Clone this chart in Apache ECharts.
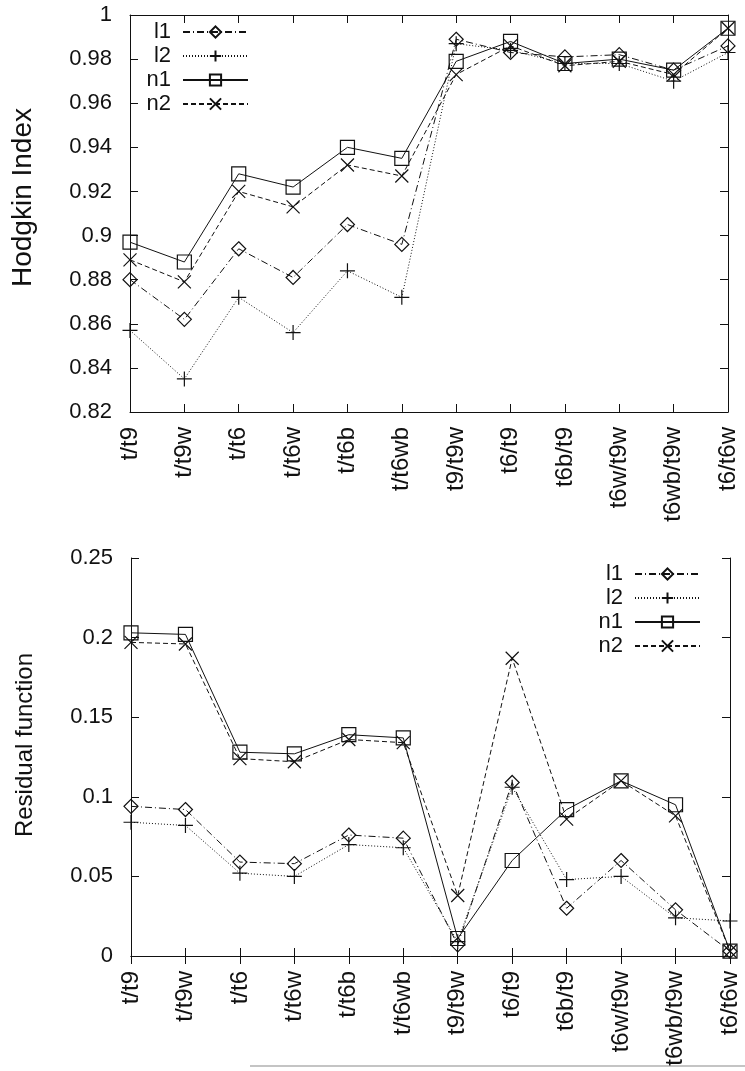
<!DOCTYPE html>
<html>
<head>
<meta charset="utf-8">
<script src="https://cdn.jsdelivr.net/npm/echarts@6/dist/echarts.min.js"></script>
<style>
html,body{margin:0;padding:0;background:#fff;}
#chart{width:745px;height:1071px;}
</style>
</head>
<body>
<div id="chart"></div>
<script>
// Categories (x axis tick labels)
const categories = ['t/t9','t/t9w','t/t6','t/t6w','t/t6b','t/t6wb','t9/t9w','t6/t9','t6b/t9','t6w/t9w','t6wb/t9w','t6/t6w'];

// Top panel: Hodgkin Index
const hodgkinL1 = [0.880, 0.862, 0.894, 0.881, 0.905, 0.896, 0.989, 0.983, 0.981, 0.982, 0.975, 0.986];
const hodgkinL2 = [0.857, 0.835, 0.872, 0.856, 0.884, 0.872, 0.987, 0.984, 0.978, 0.978, 0.970, 0.983];
const hodgkinN1 = [0.897, 0.888, 0.928, 0.922, 0.940, 0.935, 0.979, 0.988, 0.978, 0.980, 0.975, 0.994];
const hodgkinN2 = [0.889, 0.879, 0.920, 0.913, 0.932, 0.927, 0.973, 0.986, 0.977, 0.979, 0.973, 0.994];

// Bottom panel: Residual function
const residualL1 = [0.094, 0.092, 0.059, 0.058, 0.076, 0.074, 0.007, 0.109, 0.030, 0.060, 0.029, 0.003];
const residualL2 = [0.084, 0.082, 0.052, 0.050, 0.070, 0.068, 0.009, 0.106, 0.048, 0.050, 0.024, 0.022];
const residualN1 = [0.203, 0.202, 0.128, 0.127, 0.139, 0.137, 0.011, 0.060, 0.092, 0.110, 0.095, 0.003];
const residualN2 = [0.197, 0.196, 0.124, 0.122, 0.136, 0.134, 0.038, 0.187, 0.086, 0.110, 0.088, 0.003];

const seriesNames = ['l1', 'l2', 'n1', 'n2'];

const FONT = 'Liberation Sans, Arial, Helvetica, sans-serif';
const INK = '#111';

const styles = {
  l1: { symbol: 'diamond', symbolSize: 14, dash: [7, 3, 1, 3] },
  l2: { symbol: 'path://M0,5H10M5,0V10', symbolSize: 15, dash: [1, 2] },
  n1: { symbol: 'rect', symbolSize: 14, dash: 'solid' },
  n2: { symbol: 'path://M0,0L10,10M10,0L0,10', symbolSize: 13, dash: [5, 3] }
};

function makeSeries(name, data, gi) {
  const s = styles[name];
  return {
    name: name,
    type: 'line',
    xAxisIndex: gi * 2,
    yAxisIndex: gi * 2,
    data: data,
    symbol: s.symbol,
    symbolSize: s.symbolSize,
    showAllSymbol: true,
    animation: false,
    z: 3,
    lineStyle: { color: INK, width: 1, type: s.dash },
    itemStyle: { color: 'rgba(0,0,0,0)', borderColor: INK, borderWidth: 1.2 },
    emphasis: { disabled: true }
  };
}

const grids = [
  { left: 130, top: 15, width: 598, height: 397 },
  { left: 131, top: 558, width: 599, height: 398 }
];

const xAxes = [];
const yAxes = [];
const yCfg = [
  { min: 0.82, max: 1, interval: 0.02, name: 'Hodgkin Index', nameSize: 28, nameGap: 93, namePad: [0, 0, 0, 32] },
  { min: 0, max: 0.25, interval: 0.05, name: 'Residual function', nameSize: 24, nameGap: 94, namePad: [0, 0, 0, 24] }
];
for (let g = 0; g < 2; g++) {
  xAxes.push({
    type: 'category', gridIndex: g, data: categories, boundaryGap: false, position: 'bottom',
    axisLine: { show: true, lineStyle: { color: INK, width: 1 } },
    axisTick: { show: true, inside: true, length: 8, lineStyle: { color: INK } },
    axisLabel: { rotate: 90, margin: 15, fontSize: 24, fontFamily: FONT, color: INK, interval: 0 },
    splitLine: { show: false }
  });
  xAxes.push({
    type: 'category', gridIndex: g, data: categories, boundaryGap: false, position: 'top',
    axisLine: { show: true, lineStyle: { color: INK, width: 1 } },
    axisTick: { show: true, inside: true, length: 8, lineStyle: { color: INK }, interval: 0 },
    axisLabel: { show: false },
    splitLine: { show: false }
  });
  const c = yCfg[g];
  yAxes.push({
    type: 'value', gridIndex: g, min: c.min, max: c.max, interval: c.interval, position: 'left',
    name: c.name, nameLocation: 'middle', nameRotate: 90, nameGap: c.nameGap,
    nameTextStyle: { fontSize: c.nameSize, fontFamily: FONT, color: INK, padding: c.namePad },
    axisLine: { show: true, lineStyle: { color: INK, width: 1 } },
    axisTick: { show: true, inside: true, length: 8, lineStyle: { color: INK } },
    axisLabel: { margin: 18, fontSize: 22, fontFamily: FONT, color: INK },
    splitLine: { show: false }
  });
  yAxes.push({
    type: 'value', gridIndex: g, min: c.min, max: c.max, interval: c.interval, position: 'right',
    axisLine: { show: true, lineStyle: { color: INK, width: 1 } },
    axisTick: { show: true, inside: true, length: 8, lineStyle: { color: INK } },
    axisLabel: { show: false },
    splitLine: { show: false }
  });
}

const topData = [hodgkinL1, hodgkinL2, hodgkinN1, hodgkinN2];
const botData = [residualL1, residualL2, residualN1, residualN2];
const series = [];
seriesNames.forEach((n, i) => series.push(makeSeries(n, topData[i], 0)));
seriesNames.forEach((n, i) => series.push(makeSeries(n, botData[i], 1)));
series.forEach((s, i) => { s.id = 's' + i; });

function legendCfg(pos) {
  return Object.assign({
    orient: 'vertical', align: 'right', padding: 0,
    itemWidth: 65, itemHeight: 14, itemGap: 2,
    selectedMode: false,
    textStyle: { fontSize: 22, fontFamily: FONT, color: INK, padding: [0, 7, 0, 0] },
    data: seriesNames
  }, pos);
}

const chart = echarts.init(document.getElementById('chart'), null, { renderer: 'canvas' });
chart.setOption({
  backgroundColor: '#fff',
  animation: false,
  grid: grids,
  xAxis: xAxes,
  yAxis: yAxes,
  legend: [
    legendCfg({ right: 496, top: 21 }),
    legendCfg({ right: 44, top: 563 })
  ],
  graphic: [
    { type: 'line', shape: { x1: 250, y1: 1066, x2: 745, y2: 1066 }, style: { stroke: '#c4c4c4', lineWidth: 2 } }
  ],
  series: series
});
</script>
</body>
</html>
